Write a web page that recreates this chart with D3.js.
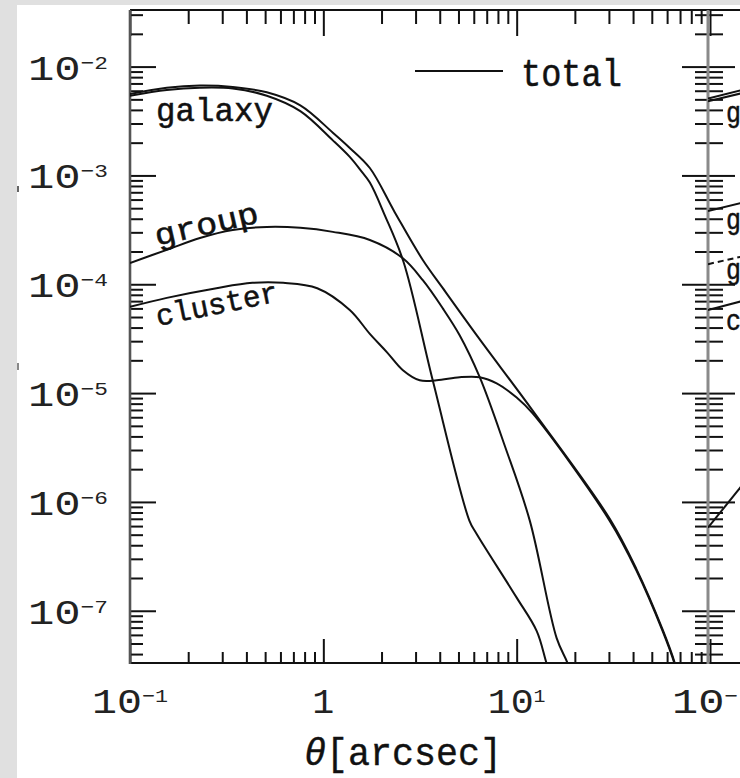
<!DOCTYPE html>
<html><head><meta charset="utf-8">
<script src="https://cdn.jsdelivr.net/npm/d3@7"></script>
<style>body{margin:0;background:#e0e0e0}svg{display:block}</style>
</head><body><svg id="c" width="740" height="778"></svg>
<script>
// ---------- data ----------
const thetaGalaxy = [0.1, 0.155, 0.23, 0.34, 0.51, 0.76, 1.12, 1.37, 1.55, 1.74, 2.08, 2.6, 3.68, 5.7, 6.2, 10.0, 12.7, 14.3, 16.4];
const galaxyVals  = [5.4e-3, 6.1e-3, 6.4e-3, 6.3e-3, 5.4e-3, 3.9e-3, 2.1e-3, 1.48e-3, 1.13e-3, 8.6e-4, 4.3e-4, 1.6e-4, 1.31e-5, 6.7e-7, 5.1e-7, 1.32e-7, 6.5e-8, 3.25e-8, 1.5e-8];

const thetaGroup = [0.1, 0.155, 0.23, 0.34, 0.51, 0.76, 1.12, 1.74, 2.57, 3.27, 4.15, 5.07, 6.44, 8.67, 11.7, 16.1, 18.4, 20.5];
const groupVals  = [1.57e-4, 2.07e-4, 2.66e-4, 3.15e-4, 3.36e-4, 3.3e-4, 3.03e-4, 2.55e-4, 1.74e-4, 1.09e-4, 6.0e-5, 3.4e-5, 1.4e-5, 3.3e-6, 6.7e-7, 5.6e-8, 3.25e-8, 1.8e-8];

const thetaCluster = [0.1, 0.155, 0.28, 0.43, 0.62, 0.93, 1.37, 1.74, 2.13, 2.58, 3.15, 3.86, 5.07, 6.44, 7.88, 10.0, 12.1, 30.3, 41.7, 56.9, 65.6, 71.3];
const clusterVals  = [6.2e-5, 7.5e-5, 9.2e-5, 1.03e-4, 1.03e-4, 9.2e-5, 5.8e-5, 3.5e-5, 2.38e-5, 1.62e-5, 1.31e-5, 1.31e-5, 1.4e-5, 1.4e-5, 1.23e-5, 9.1e-6, 6.5e-6, 6.7e-7, 2.33e-7, 6.5e-8, 3.25e-8, 1.8e-8];

const thetaTotal = [0.1, 0.155, 0.23, 0.34, 0.51, 0.76, 1.12, 1.37, 1.74, 2.34, 3.27, 4.15, 6.29, 12.1, 30.3, 41.7, 56.9, 65.6, 71.3];
const totalVals  = [5.6e-3, 6.4e-3, 6.7e-3, 6.5e-3, 5.8e-3, 4.4e-3, 2.47e-3, 1.79e-3, 1.17e-3, 4.6e-4, 1.67e-4, 9.2e-5, 3.3e-5, 6.9e-6, 7.0e-7, 2.4e-7, 6.7e-8, 3.35e-8, 1.85e-8];

// fragments of the neighbouring (cropped) right panel
const thetaRight   = [0.1, 0.15];
const rightTotal   = [5.1e-3, 6.1e-3];
const rightGalaxy  = [4.8e-3, 5.7e-3];
const rightGroupA  = [4.7e-4, 5.6e-4];
const rightGroupB  = [1.53e-4, 1.8e-4];
const rightCluster = [5.8e-5, 7.0e-5];
const rightSteep   = [5.8e-7, 1.42e-6];
const rightLabels  = ["g", "g", "g", "c"];
const rightLabelVals = [3.1e-3, 3.2e-4, 1.12e-4, 3.8e-5];

// axis ticks and labels
const xMajor = [0.1, 1, 10];
const xLabelBase = ["10", "1", "10"];
const xLabelSup  = ["\u22121", "", "1"];
const yMajor = [1e-2, 1e-3, 1e-4, 1e-5, 1e-6, 1e-7];
const yLabelSup = ["\u22122", "\u22123", "\u22124", "\u22125", "\u22126", "\u22127"];
const curveLabels = ["galaxy", "group", "cluster"];
const legendLabel = "total";

// ---------- drawing ----------
const svg = d3.select("#c");
const FONT = "'Liberation Mono', 'DejaVu Sans Mono', monospace";
svg.append("rect").attr("width", 740).attr("height", 778).attr("fill", "#e0e0e0");
svg.append("rect").attr("x", 17).attr("y", 5).attr("width", 723).attr("height", 773).attr("fill", "#fff");
// small scan marks at the left edge
svg.append("line").attr("x1", 18).attr("x2", 18).attr("y1", 186).attr("y2", 192).attr("stroke", "#666").attr("stroke-width", 2);
svg.append("line").attr("x1", 18).attr("x2", 18).attr("y1", 363).attr("y2", 370).attr("stroke", "#888").attr("stroke-width", 2);

const x = d3.scaleLog().domain([0.1, 100]).range([130, 710]);
const x2 = d3.scaleLog().domain([0.1, 100]).range([708, 1288]);
const y = d3.scaleLog().domain([Math.pow(10, -7.48), Math.pow(10, -1.48)]).range([663, 10]);

const isMajor = v => Math.abs(Math.log10(v) - Math.round(Math.log10(v))) < 1e-6;
const xMinor = x.ticks().filter(v => !isMajor(v));
const xMaj = x.ticks().filter(v => isMajor(v));
const yMinor = y.ticks().filter(v => !isMajor(v));
const yMaj = y.ticks().filter(v => isMajor(v));

function styleAxis(g) {
  g.select(".domain").remove();
  g.selectAll(".tick line").attr("stroke", "#111").attr("stroke-width", 2);
  g.selectAll(".tick text").remove();
}
function addAxis(axisFn, scale, vals, size, tr) {
  svg.append("g").attr("transform", tr)
    .call(axisFn(scale).tickValues(vals).tickSize(size).tickSizeOuter(0).tickFormat(""))
    .call(styleAxis);
}
addAxis(d3.axisBottom, x, xMinor, -11, "translate(0,663)");
addAxis(d3.axisBottom, x, xMaj, -24, "translate(0,663)");
addAxis(d3.axisTop, x, xMinor, -14, "translate(0,10)");
addAxis(d3.axisTop, x, xMaj, -26, "translate(0,10)");
addAxis(d3.axisLeft, y, yMinor, -13, "translate(130,0)");
addAxis(d3.axisLeft, y, yMaj, -26, "translate(130,0)");
addAxis(d3.axisRight, y, yMinor, -13, "translate(708,0)");
addAxis(d3.axisRight, y, yMaj, -26, "translate(708,0)");
addAxis(d3.axisLeft, y, yMinor, -15, "translate(708,0)");
addAxis(d3.axisLeft, y, yMaj, -27, "translate(708,0)");

// frame lines
svg.append("line").attr("x1", 130).attr("x2", 740).attr("y1", 10).attr("y2", 10).attr("stroke", "#111").attr("stroke-width", 2);
svg.append("line").attr("x1", 130).attr("x2", 740).attr("y1", 663).attr("y2", 663).attr("stroke", "#111").attr("stroke-width", 2.2);
svg.append("line").attr("x1", 130).attr("x2", 130).attr("y1", 10).attr("y2", 664).attr("stroke", "#555").attr("stroke-width", 2.6);
svg.append("line").attr("x1", 708).attr("x2", 708).attr("y1", 10).attr("y2", 664).attr("stroke", "#8a8a8a").attr("stroke-width", 3);

// clips
const defs = svg.append("defs");
defs.append("clipPath").attr("id", "clipL").append("rect").attr("x", 130).attr("y", 10).attr("width", 578).attr("height", 653);
defs.append("clipPath").attr("id", "clipR").append("rect").attr("x", 708).attr("y", 10).attr("width", 40).attr("height", 653);

const line = d3.line().x(d => x(d[0])).y(d => y(d[1])).curve(d3.curveCatmullRom.alpha(0.5));
const line2 = d3.line().x(d => x2(d[0])).y(d => y(d[1]));
const zip = (a, b) => a.map((v, i) => [v, b[i]]);

const gL = svg.append("g").attr("clip-path", "url(#clipL)").attr("fill", "none").attr("stroke", "#111").attr("stroke-width", 2);
[[thetaGalaxy, galaxyVals], [thetaGroup, groupVals], [thetaCluster, clusterVals], [thetaTotal, totalVals]]
  .forEach(([t, v]) => gL.append("path").attr("d", line(zip(t, v))));

const gR = svg.append("g").attr("clip-path", "url(#clipR)").attr("fill", "none").attr("stroke", "#111").attr("stroke-width", 2);
[rightTotal, rightGalaxy, rightGroupA, rightCluster, rightSteep]
  .forEach(v => gR.append("path").attr("d", line2(zip(thetaRight, v))));
gR.append("path").attr("d", line2(zip(thetaRight, rightGroupB))).attr("stroke-dasharray", "6,4");

// text helper: horizontally fit text to a target width
function fitText(t, px, py, w, anchor, rot) {
  const bb = t.node().getBBox();
  const sx = w / bb.width;
  const off = anchor === "middle" ? bb.x + bb.width / 2 : anchor === "end" ? bb.x + bb.width : bb.x;
  t.attr("transform", `translate(${px},${py}) rotate(${rot || 0}) scale(${sx},1) translate(${-off},0)`);
}
function mkText(str, size, sw) {
  return svg.append("text").attr("font-family", FONT).attr("font-size", size).attr("fill", "#111")
    .attr("stroke", "#111").attr("stroke-width", sw == null ? 0.5 : sw).text(str);
}
function mkPow(base, sup, size) {
  const t = svg.append("text").attr("font-family", FONT).attr("font-size", size).attr("fill", "#222");
  t.append("tspan").text(base);
  if (sup) t.append("tspan").attr("font-size", size * 0.52).attr("dy", -11).text(sup);
  return t;
}

// y tick labels
yMajor.forEach((v, i) => {
  const t = mkPow("10", yLabelSup[i], 35);
  fitText(t, 28, y(v) + 13, 80, "start");
});
// x tick labels
xMajor.forEach((v, i) => {
  const t = mkPow(xLabelBase[i], xLabelSup[i], 35);
  const w = xLabelSup[i] === "" ? 22 : (xLabelSup[i].length > 1 ? 76 : 58);
  fitText(t, x(v), 713, w, "middle");
});
// right panel x label (cropped at the window edge in the reference)
{
  const t = mkPow("10", "\u2212", 35);
  fitText(t, 672, 713, 66, "start");
}

// axis title
{
  const t = svg.append("text").attr("font-family", FONT).attr("font-size", 38).attr("fill", "#111")
    .attr("stroke", "#111").attr("stroke-width", 0.4);
  t.append("tspan").attr("font-style", "italic").text("\u03b8");
  t.append("tspan").text("[arcsec]");
  fitText(t, 304, 765, 198, "start");
}

// legend
svg.append("line").attr("x1", 415).attr("x2", 503).attr("y1", 71).attr("y2", 71).attr("stroke", "#111").attr("stroke-width", 2);
fitText(mkText(legendLabel, 38), 521, 86, 101, "start");

// curve labels
fitText(mkText(curveLabels[0], 33), 156, 121, 117, "start");
fitText(mkText(curveLabels[1], 31), 157, 246, 106, "start", -13);
fitText(mkText(curveLabels[2], 30), 158, 326, 124, "start", -11.5);

// right panel labels (only their first letters are inside the window)
rightLabels.forEach((s, i) => {
  const t = mkText(s, 30, 0.5);
  fitText(t, 726, y(rightLabelVals[i]), 15, "start");
});
</script></body></html>
